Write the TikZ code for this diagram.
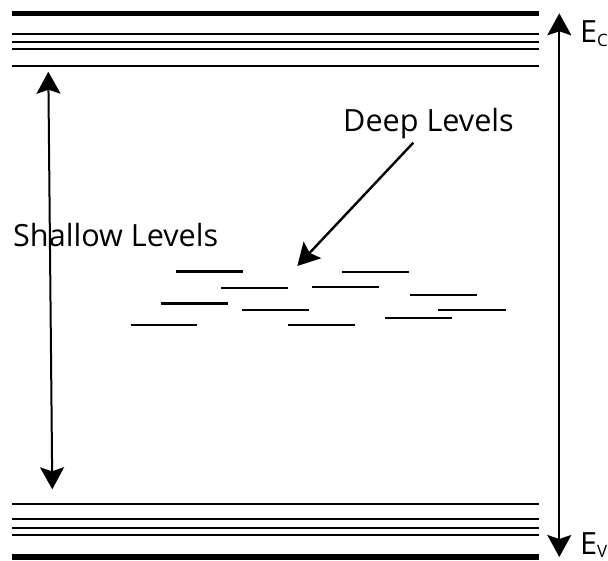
\documentclass[tikz,border=0pt]{standalone}
\usepackage{fontspec}
\setmainfont{Open Sans}
\usetikzlibrary{arrows.meta}
\begin{document}
\begin{tikzpicture}[x=1pt,y=-1pt,
  thicklevel/.style={line width=5.5pt},
  thinlevel/.style={line width=2pt},
  deeplevel/.style={line width=2.4pt},
  bigarrow/.style={line width=2pt,-{Stealth[length=22pt,width=24pt,inset=4pt]}},
  dblarrow/.style={line width=2pt,{Stealth[length=22pt,width=24pt,inset=4pt]}-{Stealth[length=22pt,width=24pt,inset=4pt]}},
  label/.style={inner sep=0pt,anchor=base west,font=\fontsize{30.6pt}{36pt}\selectfont}]
\useasboundingbox (0,0) rectangle (608,561);

% conduction band edge and shallow donor levels
\draw[thicklevel] (12,13.5) -- (539,13.5);
\foreach \y in {34.3,41.7,49.3,66} \draw[thinlevel] (12,\y) -- (539,\y);

% valence band edge and shallow acceptor levels
\foreach \y in {504.3,519,528.3,535.3} \draw[thinlevel] (12,\y) -- (539,\y);
\draw[thicklevel] (12,557) -- (539,557);

% deep levels scattered near mid-gap
\foreach \xa/\xb/\y in {175.7/242.7/271.7, 221/288.3/288.3, 160.7/227.7/303.7,
  242/308.7/310.3, 130.7/197.3/325.3, 288.3/355/325.3, 342.3/409.3/272,
  312/379.3/287.3, 409.7/476.7/295.3, 438.3/505.7/310.3, 385/452.3/318.3}
  \draw[deeplevel] (\xa,\y) -- (\xb,\y);

% labels
\node[label] (shallow) at (13,246.7) {Shallow Levels};
\node[label] (deep) at (343,131.7) {Deep Levels};
\node[label] (ec) at (580,42.7) {E{\fontsize{17pt}{17pt}\selectfont\raisebox{-4pt}{C}}};
\node[label] (ev) at (580,554.5) {E{\fontsize{17pt}{17pt}\selectfont\raisebox{-3pt}{V}}};

% arrow endpoints
\coordinate (shtop) at (48.3,71.7);
\coordinate (shbot) at (52.3,489.3);
\coordinate (gaptop) at (559.3,13.3);
\coordinate (gapbot) at (559.3,557);
\coordinate (deepfrom) at (413.3,142.7);
\coordinate (deepto) at (297.3,266);

% arrows
\draw[dblarrow] (shtop) -- (shbot);
\draw[dblarrow] (gaptop) -- (gapbot);
\draw[bigarrow,line width=2.4pt] (deepfrom) -- (deepto);
\end{tikzpicture}
\end{document}
